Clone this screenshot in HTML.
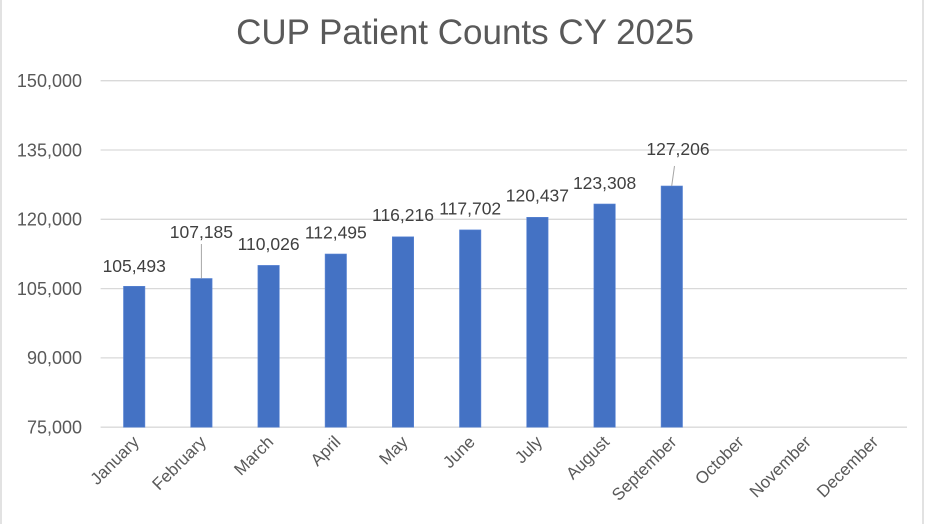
<!DOCTYPE html>
<html><head><meta charset="utf-8"><style>
body{margin:0;background:#fff;}
svg{display:block;font-family:"Liberation Sans",sans-serif;}
</style></head><body>
<svg width="932" height="524" viewBox="0 0 932 524">
<rect x="0" y="0" width="932" height="524" fill="#fff"/>
<line x1="1" y1="0" x2="1" y2="524" stroke="#d9d9d9" stroke-width="1.5"/>
<line x1="923" y1="0" x2="923" y2="524" stroke="#d9d9d9" stroke-width="1.5"/>
<text x="465" y="44" text-anchor="middle" font-size="35" fill="#595959">CUP Patient Counts CY 2025</text>
<g stroke="#d9d9d9" stroke-width="1.3">
<line x1="100.6" x2="907" y1="80.7" y2="80.7"/>
<line x1="100.6" x2="907" y1="150" y2="150"/>
<line x1="100.6" x2="907" y1="219.3" y2="219.3"/>
<line x1="100.6" x2="907" y1="288.6" y2="288.6"/>
<line x1="100.6" x2="907" y1="357.9" y2="357.9"/>
<line x1="100.6" x2="907" y1="427.2" y2="427.2"/>
</g>
<g font-size="18" fill="#595959" text-anchor="end">
<text x="82" y="87">150,000</text>
<text x="82" y="156.3">135,000</text>
<text x="82" y="225.6">120,000</text>
<text x="82" y="294.9">105,000</text>
<text x="82" y="364.2">90,000</text>
<text x="82" y="433.5">75,000</text>
</g>
<g fill="#4472c4" stroke="#5b86d6" stroke-width="0.6">
<rect x="123.5" y="286.3" width="21.4" height="140.9"/>
<rect x="190.7" y="278.5" width="21.4" height="148.7"/>
<rect x="257.9" y="265.4" width="21.4" height="161.8"/>
<rect x="325.1" y="254.0" width="21.4" height="173.2"/>
<rect x="392.3" y="236.8" width="21.4" height="190.4"/>
<rect x="459.5" y="229.9" width="21.4" height="197.3"/>
<rect x="526.7" y="217.3" width="21.4" height="209.9"/>
<rect x="593.9" y="204.0" width="21.4" height="223.2"/>
<rect x="661.1" y="186.0" width="21.4" height="241.2"/>
</g>
<g stroke="#a6a6a6" stroke-width="1">
<line x1="201.4" y1="244" x2="201.4" y2="278.5"/>
<line x1="671.7" y1="186" x2="674.5" y2="166"/>
</g>
<g font-size="17.5" fill="#404040" text-anchor="middle">
<text x="134.2" y="272">105,493</text>
<text x="201.4" y="238">107,185</text>
<text x="268.6" y="250">110,026</text>
<text x="335.8" y="238.5">112,495</text>
<text x="403" y="221">116,216</text>
<text x="470.2" y="214.5">117,702</text>
<text x="537.4" y="201.7">120,437</text>
<text x="604.6" y="189">123,308</text>
<text x="678" y="155">127,206</text>
</g>
<g font-size="17" fill="#595959" text-anchor="end">
<text transform="translate(140,443) rotate(-45)">January</text>
<text transform="translate(207.2,443) rotate(-45)">February</text>
<text transform="translate(274.4,443) rotate(-45)">March</text>
<text transform="translate(341.6,443) rotate(-45)">April</text>
<text transform="translate(408.8,443) rotate(-45)">May</text>
<text transform="translate(476,443) rotate(-45)">June</text>
<text transform="translate(543.2,443) rotate(-45)">July</text>
<text transform="translate(610.4,443) rotate(-45)">August</text>
<text transform="translate(677.6,443) rotate(-45)">September</text>
<text transform="translate(744.8,443) rotate(-45)">October</text>
<text transform="translate(812,443) rotate(-45)">November</text>
<text transform="translate(879.2,443) rotate(-45)">December</text>
</g>
</svg>
</body></html>
